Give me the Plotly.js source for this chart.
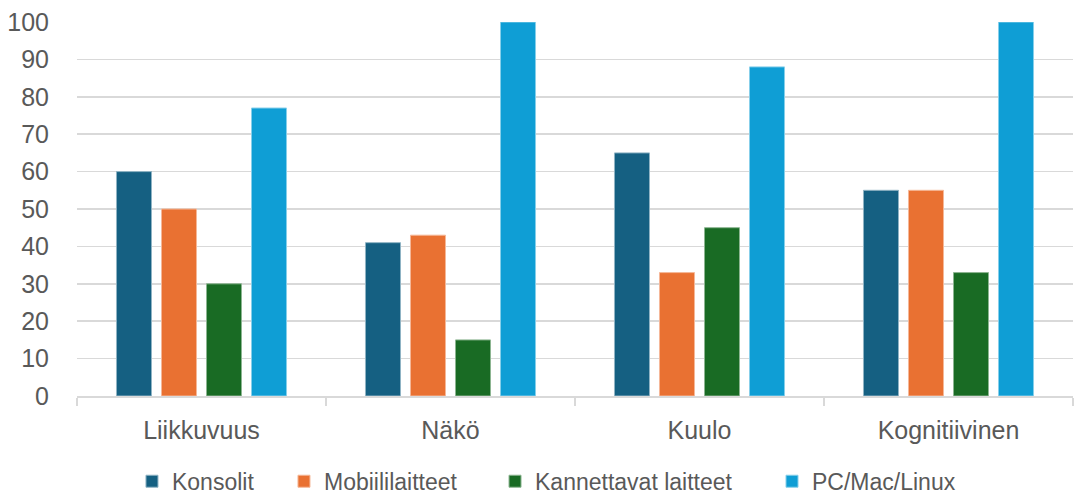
<!DOCTYPE html>
<html><head><meta charset="utf-8">
<script src="https://cdn.plot.ly/plotly-3.0.1.min.js"></script>
<style>html,body{margin:0;padding:0;background:#fff}#chart{width:1074px;height:496px}</style>
</head><body><div id="chart"></div>
<script>
const categories = ["Liikkuvuus", "Näkö", "Kuulo", "Kognitiivinen"];
const seriesNames = ["Konsolit", "Mobiililaitteet", "Kannettavat laitteet", "PC/Mac/Linux"];
const konsolit = [60, 41, 65, 55];
const mobiili = [50, 43, 33, 55];
const kannettavat = [30, 15, 45, 33];
const pc = [77, 100, 88, 100];
const yTicks = [0, 10, 20, 30, 40, 50, 60, 70, 80, 90, 100];
const colors = ["#156082", "#E97132", "#196B24", "#0F9ED5"];
const lineColors = ["#8fb3c4", "#f5b898", "#8cb591", "#87cfea"];

const legendIds = ["legend", "legend2", "legend3", "legend4"];
const legendX = [0.0552, 0.2078, 0.4197, 0.6978];

const values = [konsolit, mobiili, kannettavat, pc];
const traces = values.map((v, i) => ({
  type: "bar",
  name: seriesNames[i],
  x: categories,
  y: v,
  legend: legendIds[i],
  marker: {color: colors[i], line: {color: lineColors[i], width: 1}},
  hoverinfo: "x+y+name"
}));

const layout = {
  width: 1074, height: 496,
  margin: {l: 77, r: 1, t: 22, b: 100, autoexpand: false},
  paper_bgcolor: "#fff", plot_bgcolor: "#fff",
  barmode: "group",
  bargap: 0.277,
  bargroupgap: 0.222,
  font: {family: "Liberation Sans, Arial, sans-serif", color: "#595959", size: 24},
  xaxis: {
    type: "category",
    automargin: false,
    showgrid: false,
    showline: true, linecolor: "#d9d9d9", linewidth: 1.5,
    ticks: "outside", tickson: "boundaries", ticklen: 8, tickcolor: "#d9d9d9", tickwidth: 1.5,
    tickfont: {size: 25, color: "#595959"},
    ticklabelstandoff: 11
  },
  yaxis: {
    automargin: false,
    range: [0, 100],
    tickvals: yTicks,
    showgrid: true, gridcolor: "#d9d9d9", gridwidth: 1.5,
    zeroline: false,
    showline: false,
    ticks: "",
    tickfont: {size: 25, color: "#595959"},
    ticklabelstandoff: 27
  },
  showlegend: true
};
legendIds.forEach((id, i) => {
  layout[id] = {
    orientation: "h", x: legendX[i], xanchor: "left", y: -0.228, yanchor: "middle",
    font: {family: "Liberation Sans, Arial, sans-serif", size: 23, color: "#595959"},
    itemwidth: 30,
    bgcolor: "rgba(0,0,0,0)"
  };
});

Plotly.newPlot("chart", traces, layout, {displayModeBar: false, staticPlot: true});
</script>
</body></html>
